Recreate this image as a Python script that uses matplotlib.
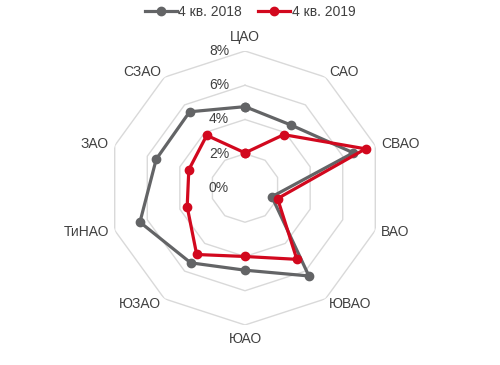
import numpy as np
import matplotlib
matplotlib.use("Agg")
import matplotlib.pyplot as plt

plt.rcParams['font.family'] = ['Liberation Sans', 'DejaVu Sans']

districts = ["ЦАО", "САО", "СВАО", "ВАО", "ЮВАО", "ЮАО", "ЮЗАО", "ТиНАО", "ЗАО", "СЗАО"]
q4_2018 = [4.75, 4.55, 6.65, 1.65, 6.35, 4.8, 5.4, 6.45, 5.45, 5.5]
q4_2019 = [2.05, 3.85, 7.4, 2.0, 5.15, 4.0, 4.8, 3.55, 3.45, 3.8]
rings = [2, 4, 6, 8]
ring_labels = ["0%", "2%", "4%", "6%", "8%"]

gray = "#636466"
red = "#d2081e"
txt = "#404040"

n = len(districts)
theta = np.linspace(0, 2 * np.pi, n, endpoint=False)
closed = np.append(theta, theta[0])

fig = plt.figure(figsize=(5, 3.65), dpi=100)
ax = fig.add_axes([0.216, 0.1096, 0.548, 0.7507], projection="polar")
ax.set_theta_offset(np.pi / 2)
ax.set_theta_direction(-1)
ax.set_ylim(0, 8)
ax.grid(False)
ax.spines["polar"].set_visible(False)
ax.set_xticks([])
ax.set_yticks([])

# decagon gridlines
for r in rings:
    ax.plot(closed, [r] * (n + 1), color="#d9d9d9", lw=1.0, zorder=1)

# radial labels
for i, lab in enumerate(ring_labels):
    ax.annotate(lab, xy=(0, i * 2), xytext=(-11.5, 0), textcoords="offset points",
                ha="right", va="center", fontsize=10, color=txt)

ax.plot(closed, q4_2018 + q4_2018[:1], color=gray, lw=2.3, marker="o", ms=6,
        label="4 кв. 2018", zorder=3)
ax.plot(closed, q4_2019 + q4_2019[:1], color=red, lw=2.3, marker="o", ms=6,
        label="4 кв. 2019", zorder=4)

# category labels
for t, name in zip(theta, districts):
    s = np.sin(t)
    if abs(s) < 0.01:
        ha = "center"
        r = 8.8
    else:
        ha = "left" if s > 0 else "right"
        r = 8.35
    ax.text(t, r, name, ha=ha, va="center", fontsize=10, color=txt)

fig.legend(loc="upper center", bbox_to_anchor=(0.5, 1.02), ncol=2, frameon=False,
           fontsize=10, handlelength=2.3, handletextpad=0.1, columnspacing=1.2,
           labelcolor=txt)

fig.savefig("out.png", dpi=100, facecolor="white")
